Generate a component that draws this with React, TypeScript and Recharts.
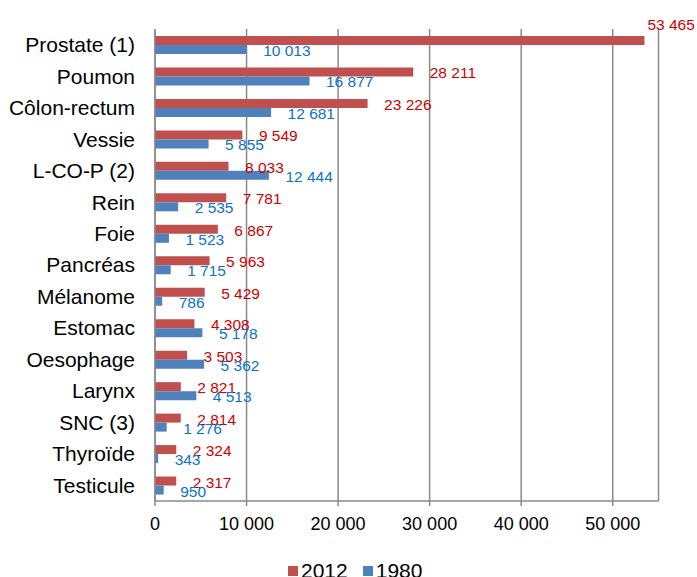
import React from 'react';
import { BarChart, Bar, XAxis, YAxis, CartesianGrid, LabelList } from 'recharts';

const categories = [
  'Prostate (1)', 'Poumon', 'Côlon-rectum', 'Vessie', 'L-CO-P (2)', 'Rein', 'Foie', 'Pancréas',
  'Mélanome', 'Estomac', 'Oesophage', 'Larynx', 'SNC (3)', 'Thyroïde', 'Testicule',
];
const values2012 = [53465, 28211, 23226, 9549, 8033, 7781, 6867, 5963, 5429, 4308, 3503, 2821, 2814, 2324, 2317];
const values1980 = [10013, 16877, 12681, 5855, 12444, 2535, 1523, 1715, 786, 5178, 5362, 4513, 1276, 343, 950];
const xTicks = [0, 10000, 20000, 30000, 40000, 50000];
const xMax = 55000;

const RED = '#C0504D';
const BLUE = '#4F81BD';
const RED_TEXT = '#D00000';
const BLUE_TEXT = '#0A74C8';
const GRID = '#8a8a8a';
const FONT = '"Liberation Sans", Arial, sans-serif';

const data = categories.map((name, i) => ({ name, y2012: values2012[i], y1980: values1980[i] }));

// "53 465" style, plain space as thousands separator
const fmt = (v: number) => String(v).replace(/\B(?=(\d{3})+(?!\d))/g, ' ');

const makeLabel = (color: string) => (props: any) => {
  const { x, y, width, height, value } = props;
  const end = Number(x) + Number(width);
  const cy = Number(y) + Number(height) / 2;
  // longest bar: label doesn't fit on the right, put it above the bar end
  const above = value > xMax * 0.9;
  return (
    <text
      x={above ? end + 3 : end + 16.5}
      y={above ? Number(y) - 12 : cy + 1}
      fill={color}
      fontSize={15.5}
      fontFamily={FONT}
      dominantBaseline="central"
    >
      {fmt(value)}
    </text>
  );
};

const LegendItem = ({ color, label }: { color: string; label: string }) => (
  <span style={{ display: 'inline-flex', alignItems: 'center', marginRight: 15 }}>
    <span style={{ width: 10, height: 10, background: color, display: 'inline-block', marginRight: 3 }} />
    <span>{label}</span>
  </span>
);

export default function App() {
  return (
    <div style={{ position: 'absolute', left: 0, top: 0, width: 697, height: 577, background: '#fff', overflow: 'hidden', fontFamily: FONT }}>
      <BarChart
        width={697}
        height={577}
        data={data}
        layout="vertical"
        margin={{ top: 29, right: 38.5, bottom: 36, left: 0 }}
        barSize={9}
        barGap={0}
      >
        <CartesianGrid horizontal={false} stroke={GRID} strokeWidth={1.5} />
        <XAxis
          type="number"
          domain={[0, xMax]}
          ticks={xTicks}
          tickFormatter={fmt}
          height={40}
          stroke={GRID}
          strokeWidth={1.5}
          tickSize={5}
          tickMargin={11}
          tick={{ fill: '#000', fontSize: 18, fontFamily: FONT }}
          allowDataOverflow
        />
        <YAxis
          type="category"
          dataKey="name"
          width={155}
          stroke={GRID}
          strokeWidth={1.5}
          tickLine={false}
          tickSize={0}
          tickMargin={20}
          interval={0}
          tick={{ fill: '#000', fontSize: 21, fontFamily: FONT }}
        />
        <Bar dataKey="y2012" fill={RED} isAnimationActive={false}>
          <LabelList dataKey="y2012" content={makeLabel(RED_TEXT)} />
        </Bar>
        <Bar dataKey="y1980" fill={BLUE} isAnimationActive={false}>
          <LabelList dataKey="y1980" content={makeLabel(BLUE_TEXT)} />
        </Bar>
      </BarChart>
      <div
        style={{
          position: 'absolute',
          left: 288,
          top: 557,
          fontSize: 21,
          lineHeight: '24px',
          whiteSpace: 'nowrap',
          color: '#000',
        }}
      >
        <LegendItem color={RED} label="2012" />
        <LegendItem color={BLUE} label="1980" />
      </div>
    </div>
  );
}
